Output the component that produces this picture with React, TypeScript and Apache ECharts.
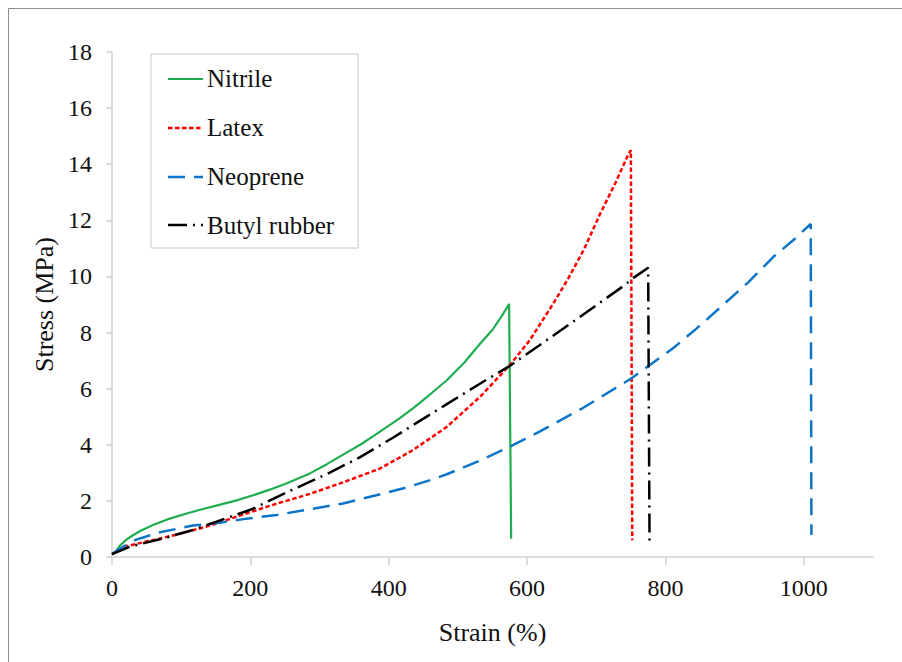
import React, { useEffect, useRef } from "react";
import * as echarts from "echarts";

const seriesNames = ["Nitrile", "Latex", "Neoprene", "Butyl rubber"];

const nitrileStrain = [0, 6, 12, 20, 28, 40, 60, 80, 108, 130, 155, 180, 204, 228, 252, 286, 310, 334, 360, 382, 416, 435, 460, 484, 510, 532, 550, 565, 571, 574, 577];
const nitrileStress = [0.1, 0.22, 0.42, 0.6, 0.74, 0.92, 1.15, 1.34, 1.55, 1.7, 1.86, 2.02, 2.2, 2.4, 2.62, 2.98, 3.3, 3.65, 4.02, 4.38, 4.95, 5.3, 5.8, 6.3, 6.95, 7.6, 8.1, 8.65, 8.9, 9.02, 0.65];

const latexStrain = [0, 20, 50, 94, 142, 190, 238, 286, 334, 387, 435, 484, 532, 575, 604, 637, 660, 683, 705, 728, 746, 750, 752];
const latexStress = [0.1, 0.38, 0.55, 0.8, 1.12, 1.52, 1.9, 2.25, 2.66, 3.15, 3.81, 4.64, 5.71, 6.84, 7.73, 9.0, 9.95, 11.0, 12.2, 13.35, 14.33, 14.5, 0.6];

const neopreneStrain = [0, 15, 35, 69, 117, 155, 190, 238, 286, 334, 382, 426, 460, 484, 530, 575, 618, 680, 751, 811, 850, 883, 920, 956, 985, 1010, 1011];
const neopreneStress = [0.1, 0.35, 0.62, 0.88, 1.12, 1.22, 1.35, 1.5, 1.7, 1.91, 2.2, 2.48, 2.74, 2.95, 3.42, 3.93, 4.47, 5.3, 6.37, 7.44, 8.25, 8.98, 9.8, 10.7, 11.3, 11.87, 0.78];

const butylStrain = [0, 26, 69, 117, 150, 204, 252, 310, 358, 406, 435, 484, 530, 575, 618, 676, 741, 751, 775, 777];
const butylStress = [0.1, 0.37, 0.63, 0.96, 1.25, 1.72, 2.3, 2.95, 3.55, 4.25, 4.7, 5.45, 6.15, 6.81, 7.55, 8.55, 9.69, 9.9, 10.31, 0.43];

const xTicks = [0, 200, 400, 600, 800, 1000];

const zip = (a: number[], b: number[]) => a.map((v, i) => [v, b[i]]);

const FONT = "Liberation Serif";

const COLORS = ["#1fad4f", "#ff0000", "#0c75c8", "#000000"];
const DASHES: any[] = ["solid", [4.5, 2.5], [17, 9], [19, 6, 2, 6]];
const WIDTHS = [2.2, 2.5, 2.5, 2.5];

export default function App() {
  const ref = useRef<HTMLDivElement>(null);
  useEffect(() => {
    if (!ref.current) return;
    const chart = echarts.init(ref.current, null, { renderer: "svg" });
    const datas = [
      zip(nitrileStrain, nitrileStress),
      zip(latexStrain, latexStress),
      zip(neopreneStrain, neopreneStress),
      zip(butylStrain, butylStress),
    ];
    const legendY = [79, 128, 177, 225];
    const legendIcons = seriesNames.map((_, i) => ({
      type: "line",
      z: 100,
      silent: true,
      shape: { x1: 168, y1: legendY[i], x2: 203, y2: legendY[i] },
      style: {
        stroke: COLORS[i],
        lineWidth: WIDTHS[i],
        lineDash: DASHES[i] === "solid" ? null : DASHES[i],
      },
    }));
    chart.setOption({
      animation: false,
      backgroundColor: "#fff",
      graphic: [
        {
          type: "rect",
          shape: { x: 8.5, y: 8.5, width: 1000, height: 1000 },
          style: { fill: "none", stroke: "#8c8c8c", lineWidth: 1 },
          silent: true,
        },
        ...legendIcons,
      ],
      grid: { left: 112, top: 52, right: 29, bottom: 105, containLabel: false },
      legend: {
        orient: "vertical",
        left: 151,
        top: 54,
        padding: [12, 24, 10, 16],
        itemGap: 24,
        itemWidth: 35,
        itemHeight: 25,
        icon: "none",
        borderColor: "#c8c8c8",
        borderWidth: 1,
        backgroundColor: "#fff",
        textStyle: { fontFamily: FONT, fontSize: 25, color: "#111" },
        data: seriesNames,
      },
      xAxis: {
        type: "value",
        min: 0,
        max: 1100,
        interval: 200,
        name: "Strain (%)",
        nameLocation: "middle",
        nameGap: 62,
        nameTextStyle: { fontFamily: FONT, fontSize: 26, color: "#111" },
        axisLine: { show: true, lineStyle: { color: "#d0d0d0", width: 1.5 } },
        axisTick: { show: true, length: 8, lineStyle: { color: "#d0d0d0", width: 1.5 }, customValues: xTicks },
        axisLabel: {
          fontFamily: FONT,
          fontSize: 24,
          color: "#111",
          margin: 19,
          customValues: xTicks,
          formatter: (v: number) => String(v),
        },
        splitLine: { show: false },
      },
      yAxis: {
        type: "value",
        min: 0,
        max: 18,
        interval: 2,
        name: "Stress (MPa)",
        nameLocation: "middle",
        nameGap: 55,
        nameRotate: 90,
        nameTextStyle: { fontFamily: FONT, fontSize: 26, color: "#111" },
        axisLine: { show: true, lineStyle: { color: "#d0d0d0", width: 1.5 } },
        axisTick: { show: true, length: 6, lineStyle: { color: "#d0d0d0", width: 1.5 } },
        axisLabel: { fontFamily: FONT, fontSize: 24, color: "#111", margin: 20 },
        splitLine: { show: false },
      },
      series: seriesNames.map((name, i) => ({
        name,
        type: "line",
        data: datas[i],
        symbol: "none",
        showSymbol: false,
        lineStyle: { color: COLORS[i], width: WIDTHS[i], type: DASHES[i] },
        itemStyle: { color: COLORS[i] },
      })),
    });
    return () => chart.dispose();
  }, []);
  return (
    <div
      ref={ref}
      style={{ position: "absolute", left: 0, top: 0, width: 902, height: 662 }}
    />
  );
}
